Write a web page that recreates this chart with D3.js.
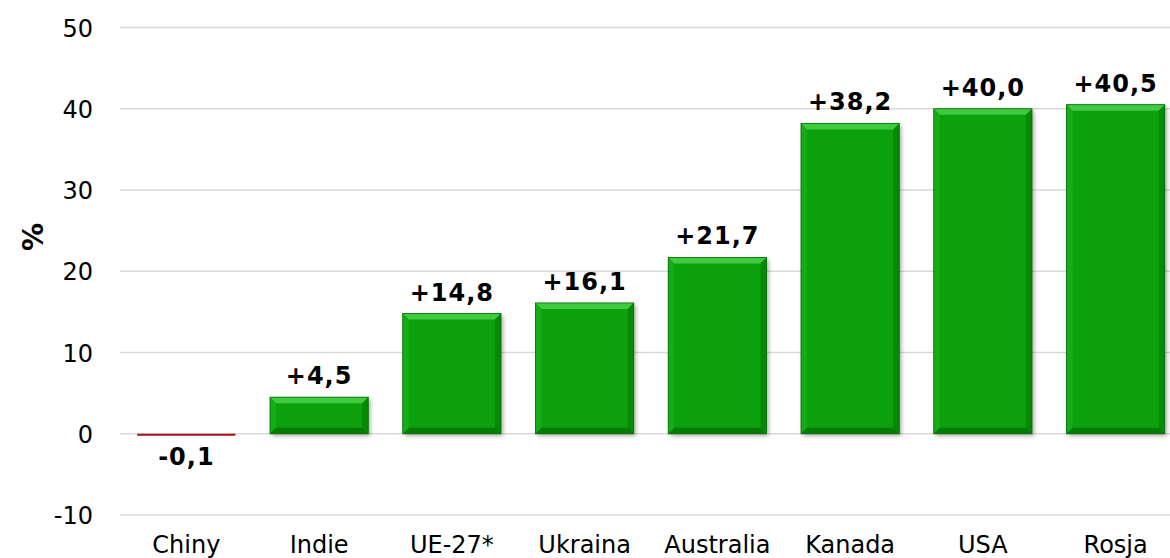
<!DOCTYPE html>
<html lang="pl">
<head>
<meta charset="utf-8">
<title>Zmiana %</title>
<style>
  body { margin: 0; background: #fff; }
  svg { display: block; font-family: "DejaVu Sans", Verdana, sans-serif; }
</style>
<script src="https://cdn.jsdelivr.net/npm/d3@7"></script>
</head>
<body>
<script>
// data
const countries = ["Chiny", "Indie", "UE-27*", "Ukraina", "Australia", "Kanada", "USA", "Rosja"]
const changes = [-0.1, 4.5, 14.8, 16.1, 21.7, 38.2, 40.0, 40.5]
const yTicks = [-10, 0, 10, 20, 30, 40, 50]

const width = 1170
const height = 558
const plotLeft = 120
const plotRight = 1182   // plot runs a bit past the window edge, like the original
const plotTop = 27.5
const plotBottom = 515

const svg = d3.select("body").append("svg")
    .attr("width", width)
    .attr("height", height)

const defs = svg.append("defs")
const shadow = defs.append("filter").attr("id", "shadow")
    .attr("x", "-10%").attr("y", "-10%").attr("width", "130%").attr("height", "130%")
shadow.append("feDropShadow")
    .attr("dx", 2).attr("dy", 2).attr("stdDeviation", 2)
    .attr("flood-color", "#000").attr("flood-opacity", 0.35)

const x = d3.scaleBand().domain(countries).range([plotLeft, plotRight]).paddingInner(0.26).paddingOuter(0.13)
const y = d3.scaleLinear().domain([-10, 50]).range([plotBottom, plotTop])

// grid lines
svg.append("g")
    .selectAll("line")
    .data(yTicks)
    .join("line")
    .attr("x1", plotLeft).attr("x2", width)
    .attr("y1", d => y(d)).attr("y2", d => y(d))
    .attr("stroke", "#d9d9d9")
    .attr("stroke-width", 1.5)

// y axis labels
const yAxis = d3.axisLeft(y).tickValues(yTicks).tickSize(0).tickPadding(0).tickFormat(d => String(d))
svg.append("g")
    .attr("transform", "translate(93,0)")
    .call(yAxis)
    .call(g => g.select(".domain").remove())
    .selectAll("text")
    .attr("font-size", 24)
    .attr("font-family", "DejaVu Sans, Verdana, sans-serif")
    .attr("fill", "#000")
    .attr("dy", "0.36em")

svg.append("text")
    .attr("transform", "translate(43,237) rotate(-90)")
    .attr("text-anchor", "middle")
    .attr("font-size", 28)
    .attr("font-weight", "bold")
    .text("%")

// category labels
const xAxis = d3.axisBottom(x).tickSize(0).tickPadding(0)
svg.append("g")
    .attr("transform", "translate(0,536)")
    .call(xAxis)
    .call(g => g.select(".domain").remove())
    .selectAll("text")
    .attr("font-size", 24)
    .attr("font-family", "DejaVu Sans, Verdana, sans-serif")
    .attr("fill", "#000")
    .attr("dy", "0.72em")

// bars with bevel look
const bars = svg.append("g")
    .selectAll("g")
    .data(countries.map((c, i) => ({ c, v: changes[i] })))
    .join("g")

bars.each(function(d) {
    const g = d3.select(this)
    const x0 = x(d.c)
    const w = x.bandwidth()
    if (d.v < 0) {
        g.append("rect")
            .attr("x", x0).attr("y", y(0))
            .attr("width", w).attr("height", Math.max(2, y(d.v) - y(0)))
            .attr("fill", "#a31515")
        return
    }
    const y0 = y(d.v)
    const h = y(0) - y0
    const b = Math.min(6, h / 3)
    g.append("rect")
        .attr("x", x0).attr("y", y0)
        .attr("width", w).attr("height", h)
        .attr("fill", "#07a007")
        .attr("filter", "url(#shadow)")
    // top bevel
    g.append("path")
        .attr("d", `M${x0},${y0}L${x0 + w},${y0}L${x0 + w - b},${y0 + b}L${x0 + b},${y0 + b}Z`)
        .attr("fill", "#40ca40")
    // left bevel
    g.append("path")
        .attr("d", `M${x0},${y0}L${x0 + b},${y0 + b}L${x0 + b},${y0 + h - b}L${x0},${y0 + h}Z`)
        .attr("fill", "#15ad15")
    // right bevel
    g.append("path")
        .attr("d", `M${x0 + w},${y0}L${x0 + w},${y0 + h}L${x0 + w - b},${y0 + h - b}L${x0 + w - b},${y0 + b}Z`)
        .attr("fill", "#068a06")
    // bottom bevel
    g.append("path")
        .attr("d", `M${x0},${y0 + h}L${x0 + b},${y0 + h - b}L${x0 + w - b},${y0 + h - b}L${x0 + w},${y0 + h}Z`)
        .attr("fill", "#067c06")
    g.append("rect")
        .attr("x", x0).attr("y", y0)
        .attr("width", w).attr("height", h)
        .attr("fill", "none")
        .attr("stroke", "#066a06")
        .attr("stroke-width", 0.8)
})

// value labels
const fmt = v => (v > 0 ? "+" : "") + v.toFixed(1).replace(".", ",")
bars.append("text")
    .attr("x", d => x(d.c) + x.bandwidth() / 2)
    .attr("y", d => d.v < 0 ? y(d.v) + 30 : y(d.v) - 13)
    .attr("text-anchor", "middle")
    .attr("font-size", 24)
    .attr("font-weight", "bold")
    .attr("letter-spacing", 1)
    .text(d => fmt(d.v))
</script>
</body>
</html>
